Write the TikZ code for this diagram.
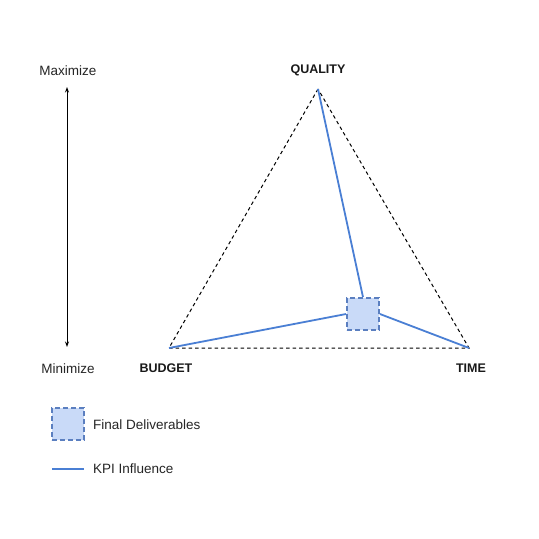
\documentclass[tikz,border=0pt]{standalone}
\usepackage{fontspec}
\setmainfont{Liberation Sans}
\usetikzlibrary{arrows.meta}
\definecolor{kpiblue}{HTML}{4A7FD4}
\definecolor{delfill}{HTML}{C9DAF8}
\definecolor{deledge}{HTML}{5B7FC0}
\begin{document}
\begin{tikzpicture}[x=1pt,y=-1pt,
  lbl/.style={font=\fontsize{13.5}{15}\selectfont, text=black!85, inner sep=0pt},
  vlbl/.style={font=\fontsize{12.5}{15}\selectfont\bfseries, text=black!90, inner sep=0pt},
  tri/.style={black, line width=1pt, dash pattern=on 3.5pt off 3pt},
  kpi/.style={kpiblue, line width=1.8pt},
  deliv/.style={draw=deledge, fill=delfill, line width=1.8pt, dash pattern=on 5pt off 3pt, minimum size=32pt, inner sep=0pt},
  scalearrow/.style={black, line width=0.9pt, {Stealth[length=5.5pt,width=4pt]}-{Stealth[length=5.5pt,width=4pt]}}]
\useasboundingbox (0,0) rectangle (539,539);
\fill[white] (0,0) rectangle (539,539);
% vertices
\coordinate (Q) at (318,89);
\coordinate (B) at (169,348);
\coordinate (T) at (469,348);
\node[deliv] (D) at (363,314) {};
% triangle
\draw[tri] (Q) -- (B) -- (T) -- cycle;
% KPI lines
\draw[kpi] (Q) -- (D.north);
\draw[kpi] (B) -- (D.west);
\draw[kpi] (T) -- (D.east);
% vertex labels
\node[vlbl] (ql) at (318,70.5) {QUALITY};
\node[vlbl] (bl) at (166,368.5) {BUDGET};
\node[vlbl] (tl) at (471,368.5) {TIME};
% scale
\node[lbl] (max) at (68,70.5) {Maximize};
\node[lbl] (min) at (68,368.5) {Minimize};
\coordinate (top) at (67,87);
\coordinate (bot) at (67,347);
\draw[scalearrow] (top) -- (bot);
% legend
\node[deliv] (ld) at (68,424) {};
\node[lbl, anchor=west] (ldt) at (93,425) {Final Deliverables};
\coordinate (l1) at (52,469);
\coordinate (l2) at (84,469);
\draw[kpi] (l1) -- (l2);
\node[lbl, anchor=west] (lkt) at (93,469) {KPI Influence};
\end{tikzpicture}
\end{document}
